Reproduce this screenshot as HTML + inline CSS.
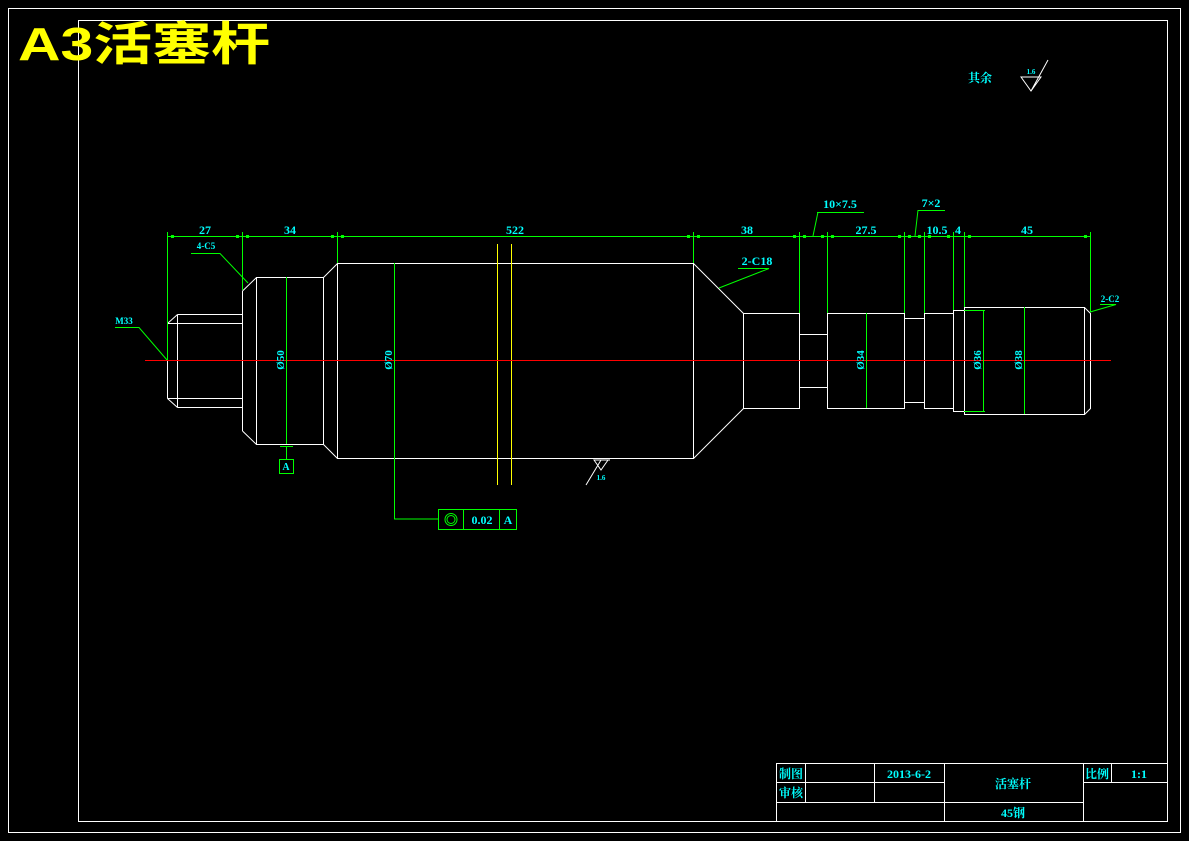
<!DOCTYPE html><html><head><meta charset="utf-8"><style>
body{margin:0;background:#000;width:1189px;height:841px;overflow:hidden}
svg{display:block}
text{font-family:"Liberation Serif","Noto Serif CJK SC",serif;fill:#00ffff;font-weight:bold}
</style></head><body>
<svg width="1189" height="841" viewBox="0 0 1189 841">
<g fill="none" stroke="#fff" stroke-width="1">
<rect x="8.5" y="8.5" width="1172" height="824"/>
<rect x="78.5" y="20.5" width="1089" height="801"/>
<rect x="776.5" y="763.5" width="391" height="58"/>
<path d="M776 782.5H944M776 802.5H1083M1083 782.5H1167M805.5 763V802M874.5 763V802M944.5 763V821M1083.5 763V821M1111.5 763V782"/>
<path d="M177.5 314.5H242.5M167.5 323.5H242.5M167.5 398.5H242.5M177.5 407.5H242.5M167.5 323.5V398.5M167.5 323.5L177.5 314.5M167.5 398.5L177.5 407.5M177.5 314.5V407.5"/>
<path d="M242.5 291V431M242.5 291L256.5 277.5M242.5 431L256.5 444.5"/>
<rect x="256.5" y="277.5" width="67" height="167"/>
<path d="M323.5 277.5L337.5 263.5M323.5 444.5L337.5 458.5"/>
<path d="M337.5 263.5H693.5V458.5H337.5Z"/>
<path d="M693.5 263.5L743.5 313.5M693.5 458.5L743.5 408.5"/>
<rect x="743.5" y="313.5" width="56" height="95"/>
<rect x="799.5" y="334.5" width="28" height="53"/>
<rect x="827.5" y="313.5" width="77" height="95"/>
<rect x="904.5" y="318.5" width="20" height="84"/>
<rect x="924.5" y="313.5" width="29" height="95"/>
<rect x="953.5" y="310.5" width="11" height="101"/>
<rect x="964.5" y="307.5" width="120" height="107"/>
<path d="M1084.5 307.5L1090.5 313.5V408.5L1084.5 414.5"/>
</g>
<path d="M497.5 244V485M511.5 244V485" stroke="#ffff00"/>
<path d="M145 360.5H1111" stroke="#ff0000"/>
<g stroke="#00ff00" fill="none">
<path d="M167 236.5H1090M167.5 232V360M242.5 232V290M337.5 232V263M693.5 232V263M799.5 232V313M827.5 232V313M904.5 232V313M924.5 232V313M953.5 232V310M964.5 232V307M1090.5 232V312"/>
<path d="M286.5 277V444M394.5 263V519H438M866.5 313V408M983.5 310V411M964 310.5H985M964 411.5H985M1024.5 307V414M286.5 446V459M280 446.5H293"/>
<rect x="279.5" y="459.5" width="14" height="14"/>
<rect x="438.5" y="509.5" width="78" height="20"/>
<path d="M463.5 509V530M499.5 509V530"/>
<circle cx="451" cy="519.5" r="6"/><circle cx="451" cy="519.5" r="4"/>
<path d="M191 253.5H220L248 283M115 327.5H139L167 360M738 268.5H769L719 288M1100 304.5H1116L1090 312M817 212.5H864M818 212L813 236M918 210.5H945M918 210L915 236"/>
</g>
<g fill="#00ff00">
<rect x="171" y="235" width="3" height="3"/><rect x="236" y="235" width="3" height="3"/><rect x="246" y="235" width="3" height="3"/><rect x="331" y="235" width="3" height="3"/><rect x="341" y="235" width="3" height="3"/><rect x="687" y="235" width="3" height="3"/><rect x="697" y="235" width="3" height="3"/><rect x="793" y="235" width="3" height="3"/><rect x="803" y="235" width="3" height="3"/><rect x="821" y="235" width="3" height="3"/><rect x="831" y="235" width="3" height="3"/><rect x="898" y="235" width="3" height="3"/><rect x="908" y="235" width="3" height="3"/><rect x="918" y="235" width="3" height="3"/><rect x="928" y="235" width="3" height="3"/><rect x="947" y="235" width="3" height="3"/><rect x="968" y="235" width="3" height="3"/><rect x="1084" y="235" width="3" height="3"/>
</g>
<g stroke="#fff" fill="none"><path d="M594 460L601 470L608 460ZM586 485L601 460L610 460"/><path d="M1021 77L1031 91L1041 77ZM1031 91L1048 60"/></g>
<text x="18" y="60" textLength="252" lengthAdjust="spacingAndGlyphs" style="fill:#ffff00;font-family:'Liberation Sans','Noto Sans CJK SC',sans-serif;font-size:46px;font-weight:bold">A3活塞杆</text>
<g font-size="12" text-anchor="middle">
<text x="205" y="234">27</text><text x="290" y="234">34</text><text x="515" y="234">522</text>
<text x="747" y="234">38</text><text x="866" y="234">27.5</text><text x="937" y="234">10.5</text><text x="958" y="234">4</text><text x="1027" y="234">45</text>
<text x="840" y="208">10×7.5</text><text x="931" y="207">7×2</text><text x="757" y="265">2-C18</text>
<text x="1110" y="302" font-size="9">2-C2</text><text x="206" y="249" font-size="9">4-C5</text><text x="124" y="324" font-size="9">M33</text>
<text x="286" y="470" font-size="10">A</text><text x="482" y="524">0.02</text><text x="508" y="524">A</text>
<text x="601" y="480" font-size="7">1.6</text><text x="1031" y="74" font-size="7">1.6</text>
<text x="980" y="82" font-size="12">其余</text>
<text transform="translate(284 360) rotate(-90)" font-size="11">Ø50</text>
<text transform="translate(392 360) rotate(-90)" font-size="11">Ø70</text>
<text transform="translate(864 360) rotate(-90)" font-size="11">Ø34</text>
<text transform="translate(981 360) rotate(-90)" font-size="11">Ø36</text>
<text transform="translate(1022 360) rotate(-90)" font-size="11">Ø38</text>
<text x="791" y="778">制图</text><text x="791" y="797">审核</text><text x="909" y="778">2013-6-2</text>
<text x="1013" y="788">活塞杆</text><text x="1013" y="817">45钢</text><text x="1097" y="778">比例</text><text x="1139" y="778">1:1</text>
</g>
</svg></body></html>
